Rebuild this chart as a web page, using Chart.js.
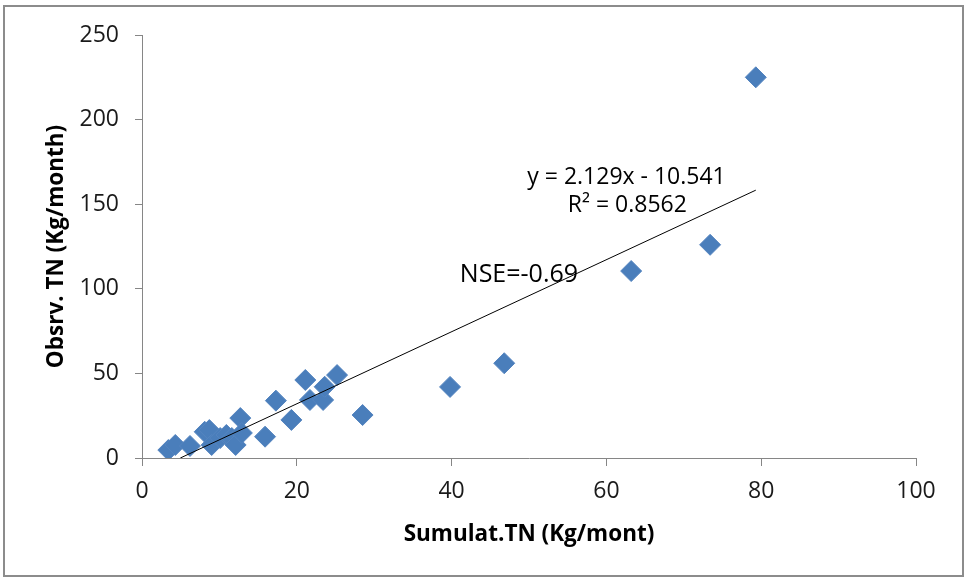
<!DOCTYPE html>
<html>
<head>
<meta charset="utf-8">
<script src="https://cdn.jsdelivr.net/npm/chart.js@4.4.0/dist/chart.umd.min.js"></script>
<style>
  html, body { margin: 0; padding: 0; background: #fff; }
  #wrap { width: 966px; height: 581px; position: relative; }
</style>
</head>
<body>
<div id="wrap"><canvas id="chart1" width="966" height="581"></canvas></div>
<script>
// values
const simX = [3.4, 4.3, 6.2, 8.1, 8.7, 9.0, 10.1, 10.9, 11.6, 12.1, 12.7, 12.9, 15.9, 17.3, 19.3, 21.1, 21.7, 23.4, 23.6, 25.2, 28.5, 39.8, 46.8, 63.2, 73.4, 79.3];
const obsY = [4.7, 7.7, 7.1, 15.5, 16.5, 7.7, 11.8, 13.6, 11.8, 7.7, 23.6, 14.8, 12.6, 33.9, 22.5, 46.1, 34.3, 34.3, 42.1, 49.0, 25.4, 42.0, 56.0, 110.5, 126.0, 225.0];

// trend line end points (as drawn)
const trendX = [4.95, 79.3];
const trendY = [0.0, 158.3];

const xTicks = [0, 20, 40, 60, 80, 100];
const yTicks = [0, 50, 100, 150, 200, 250];

const eqText = 'y = 2.129x - 10.541';
const r2Text = 'R² = 0.8562';
const nseText = 'NSE=-0.69';

const FONT = "'Open Sans', 'Noto Sans', sans-serif";

var points = simX.map(function (x, i) { return { x: x, y: obsY[i] }; });
var trend = trendX.map(function (x, i) { return { x: x, y: trendY[i] }; });

// frame + text labels
const extras = {
  id: 'extras',
  beforeDraw(chart) {
    const c = chart.ctx;
    c.save();
    c.fillStyle = '#fff';
    c.fillRect(0, 0, chart.width, chart.height);
    c.strokeStyle = '#8c8c8c';
    c.lineWidth = 2;
    c.strokeRect(4, 6, 959, 570);
    c.restore();
  },
  afterDraw(chart) {
    const c = chart.ctx;
    const xs = chart.scales.x, ys = chart.scales.y;
    c.save();
    c.fillStyle = '#000';
    c.textAlign = 'center';
    c.textBaseline = 'middle';
    c.font = '23px ' + FONT;
    c.fillText(eqText, xs.getPixelForValue(62.6), ys.getPixelForValue(166));
    c.fillText(r2Text, xs.getPixelForValue(62.7), ys.getPixelForValue(149));
    c.font = '25px ' + FONT;
    c.fillText(nseText, xs.getPixelForValue(48.7), ys.getPixelForValue(108));
    c.restore();
  }
};

var ctx = document.getElementById('chart1').getContext('2d');
new Chart(ctx, {
  type: 'scatter',
  data: {
    datasets: [
      {
        label: 'obs',
        data: points,
        pointStyle: 'rectRot',
        pointRadius: 10.5,
        backgroundColor: '#4a7ebb',
        borderColor: '#5585c0',
        borderWidth: 1,
        order: 2,
      },
      {
        label: 'trend',
        type: 'line',
        data: trend,
        borderColor: '#000',
        borderWidth: 1,
        pointRadius: 0,
        fill: false,
        order: 1,
      },
    ],
  },
  options: {
    responsive: false,
    animation: false,
    layout: { padding: { left: 39, right: 50, top: 35, bottom: 29 } },
    plugins: { legend: { display: false }, tooltip: { enabled: false } },
    scales: {
      x: {
        type: 'linear',
        min: 0,
        max: 100,
        afterFit(scale) { scale.height = 94; },
        afterBuildTicks(scale) { scale.ticks = xTicks.map(function (v) { return { value: v }; }); },
        grid: { drawOnChartArea: false, tickLength: 8, color: '#868686' },
        border: { color: '#868686', width: 1 },
        ticks: { font: { family: FONT, size: 23 }, color: '#1a1a1a', padding: 12, maxRotation: 0 },
        title: { display: true, text: 'Sumulat.TN (Kg/mont)', font: { family: FONT, size: 22.5, weight: 'bold' }, color: '#000', padding: { top: 4, bottom: 4 } },
      },
      y: {
        type: 'linear',
        min: 0,
        max: 250,
        afterFit(scale) { scale.width = 103; },
        afterBuildTicks(scale) { scale.ticks = yTicks.map(function (v) { return { value: v }; }); },
        grid: { drawOnChartArea: false, tickLength: 7, color: '#868686' },
        border: { color: '#868686', width: 1 },
        ticks: { font: { family: FONT, size: 23 }, color: '#1a1a1a', padding: 16 },
        title: { display: true, text: 'Obsrv. TN (Kg/month)', font: { family: FONT, size: 22.5, weight: 'bold' }, color: '#000', padding: { top: 4, bottom: 4 } },
      },
    },
  },
  plugins: [extras],
});
</script>
</body>
</html>
